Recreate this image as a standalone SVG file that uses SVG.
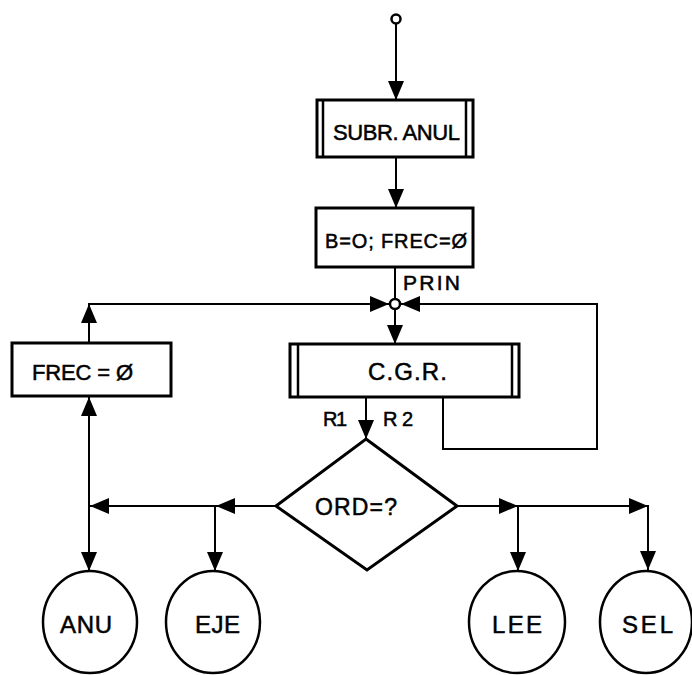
<svg xmlns="http://www.w3.org/2000/svg" xmlns:xlink="http://www.w3.org/1999/xlink" width="692" height="675" viewBox="0 0 692 675">
<style>
.box{fill:#fff;stroke:#000;stroke-width:3}
.in{stroke:#000;stroke-width:2.5;fill:none}
.ln{fill:none;stroke:#000;stroke-width:2}
.cir{fill:#fff;stroke:#000;stroke-width:2.5}
.t{font-family:"Liberation Sans",Arial,sans-serif;fill:#000;stroke:#000;stroke-width:0.5}
</style>
<defs>
<polygon id="ah" points="0,0 -19,-8 -19,8" fill="#000"/>
</defs>
<rect width="692" height="675" fill="#fff"/>
<g id="connectors">
<line class="ln" x1="396" y1="23" x2="396" y2="100"/>
<use xlink:href="#ah" transform="translate(396,100) rotate(90)"/>
<line class="ln" x1="396" y1="157" x2="396" y2="208"/>
<use xlink:href="#ah" transform="translate(396,208) rotate(90)"/>
<line class="ln" x1="395" y1="267" x2="395" y2="299"/>
<line class="ln" x1="395" y1="309" x2="395" y2="344"/>
<use xlink:href="#ah" transform="translate(395,344) rotate(90)"/>
<polyline class="ln" points="89,343 89,304 389,304"/>
<use xlink:href="#ah" transform="translate(89,304) rotate(-90)"/>
<use xlink:href="#ah" transform="translate(389,304)"/>
<polyline class="ln" points="443,397 443,449 597,449 597,304 401,304"/>
<use xlink:href="#ah" transform="translate(401,304) rotate(180)"/>
<line class="ln" x1="366" y1="397" x2="366" y2="439"/>
<use xlink:href="#ah" transform="translate(366,439) rotate(90)"/>
<polyline class="ln" points="276,506 89,506"/>
<use xlink:href="#ah" transform="translate(216,506) rotate(180)"/>
<use xlink:href="#ah" transform="translate(90,506) rotate(180)"/>
<line class="ln" x1="89" y1="397" x2="89" y2="571"/>
<use xlink:href="#ah" transform="translate(89,397) rotate(-90)"/>
<use xlink:href="#ah" transform="translate(89,571) rotate(90)"/>
<line class="ln" x1="215" y1="506" x2="215" y2="571"/>
<use xlink:href="#ah" transform="translate(215,571) rotate(90)"/>
<polyline class="ln" points="457,506 648,506 648,570"/>
<use xlink:href="#ah" transform="translate(518,506)"/>
<use xlink:href="#ah" transform="translate(648,506)"/>
<line class="ln" x1="518" y1="506" x2="518" y2="571"/>
<use xlink:href="#ah" transform="translate(518,571) rotate(90)"/>
<use xlink:href="#ah" transform="translate(648,570) rotate(90)"/>
<text class="t" x="403" y="290" font-size="21" textLength="57">PRIN</text>
<text class="t" x="323" y="426" font-size="20" textLength="24">R1</text>
<text class="t" x="383" y="426" font-size="20" textLength="30">R2</text>
</g>
<g id="start">
<circle class="cir" cx="396" cy="19" r="4.5" stroke-width="2"/>
</g>
<g id="subr-anul">
<rect class="box" x="317" y="100" width="156" height="57"/>
<line class="in" x1="323" y1="100" x2="323" y2="157"/>
<line class="in" x1="466" y1="100" x2="466" y2="157"/>
<text class="t" x="333" y="140" font-size="22" textLength="127">SUBR. ANUL</text>
</g>
<g id="init">
<rect class="box" x="316" y="208" width="157" height="59"/>
<text class="t" x="325" y="248" font-size="20" textLength="142">B=O; FREC=Ø</text>
</g>
<g id="junction">
<circle class="cir" cx="395" cy="304" r="5" stroke-width="2"/>
</g>
<g id="cgr">
<rect class="box" x="290" y="344" width="229" height="53"/>
<line class="in" x1="298" y1="344" x2="298" y2="397"/>
<line class="in" x1="512" y1="344" x2="512" y2="397"/>
<text class="t" x="368" y="380" font-size="24" textLength="79">C.G.R.</text>
</g>
<g id="frec">
<rect class="box" x="12" y="343" width="159" height="53"/>
<text class="t" x="32" y="380" font-size="22" textLength="101">FREC = Ø</text>
</g>
<g id="ord">
<polygon class="box" points="366,439 457,506 367,570 276,506"/>
<text class="t" x="315" y="515" font-size="23" textLength="82">ORD=?</text>
</g>
<g id="anu">
<ellipse class="cir" cx="90" cy="622" rx="47" ry="51"/>
<text class="t" x="60" y="633" font-size="24" textLength="52">ANU</text>
</g>
<g id="eje">
<ellipse class="cir" cx="213" cy="622" rx="47" ry="51"/>
<text class="t" x="195" y="633" font-size="24" textLength="45">EJE</text>
</g>
<g id="lee">
<ellipse class="cir" cx="517" cy="622" rx="48" ry="51"/>
<text class="t" x="492" y="633" font-size="24" textLength="50">LEE</text>
</g>
<g id="sel">
<ellipse class="cir" cx="646" cy="622" rx="46" ry="51"/>
<text class="t" x="622" y="633" font-size="24" textLength="51">SEL</text>
</g>
</svg>
